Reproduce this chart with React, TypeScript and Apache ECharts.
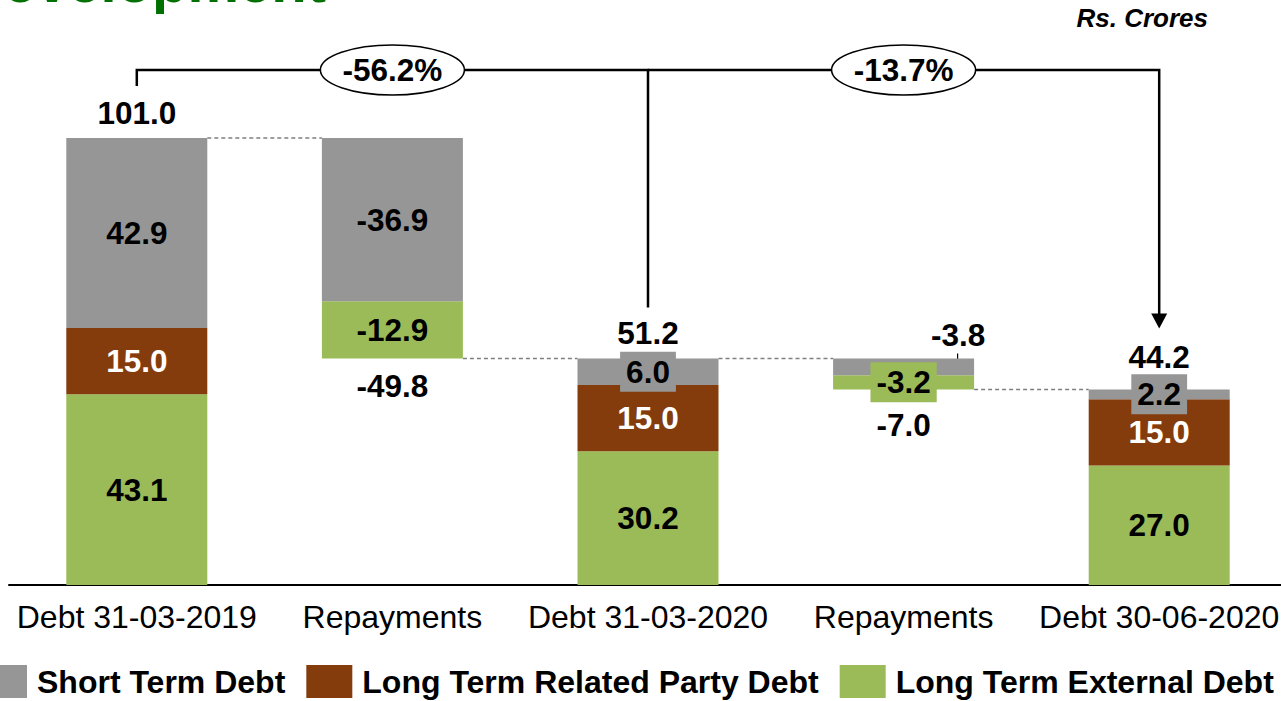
import { useEffect, useRef } from 'react';
import * as echarts from 'echarts';

// Debt positions and the repayments between them (Rs. Crores)
const categories = ['Debt 31-03-2019', 'Repayments', 'Debt 31-03-2020', 'Repayments', 'Debt 30-06-2020'];
const shortTermDebt = [42.9, -36.9, 6.0, -3.8, 2.2];
const relatedPartyDebt = [15.0, 0, 15.0, 0, 15.0];
const externalDebt = [43.1, -12.9, 30.2, -3.2, 27.0];
const totals = [101.0, -49.8, 51.2, -7.0, 44.2];
const periodChanges = ['-56.2%', '-13.7%'];
const seriesNames = ['Short Term Debt', 'Long Term Related Party Debt', 'Long Term External Debt'];

const GRAY = '#969696';
const BROWN = '#843C0C';
const GREEN = '#9BBB59';
const FONT = 'Arial, "Liberation Sans", sans-serif';
const FS = 31.5;
const FS_TEXT = 32;
const BAR_W = 141;
const BRACKET_Y = 70;
const VIEW_W = 1281;
const VIEW_H = 701;
const CHART_W = 1300; // plot runs slightly past the right edge of the view

const isChange = (i: number) => totals[i] < 0;
// floating base of each change column = level after the change
const baseOf = categories.map((_, i) => (i > 0 && isChange(i) ? +(totals[i - 1] + totals[i]).toFixed(1) : 0));
const levelAfter = (i: number) => (isChange(i) ? baseOf[i] : totals[i]);

const valueLabel = {
  show: true,
  position: 'inside',
  fontSize: FS,
  fontWeight: 'bold',
  fontFamily: FONT,
  color: '#000',
};

export default function App() {
  const ref = useRef<HTMLDivElement>(null);

  useEffect(() => {
    document.body.style.margin = '0';
    const chart = echarts.init(ref.current!, undefined, { renderer: 'svg' });

    const fmt = (arr: number[]) => (p: any) => (arr[p.dataIndex] === 0 ? '' : arr[p.dataIndex].toFixed(1));

    const externalData = externalDebt.map((v, i) => {
      const item: any = { value: Math.abs(v) };
      if (i === 3) item.label = { backgroundColor: GREEN, padding: [4, 6, 4, 6] };
      return item;
    });
    const shortData = shortTermDebt.map((v, i) => {
      const item: any = { value: Math.abs(v) };
      if (i === 2 || i === 4) item.label = { backgroundColor: GRAY, padding: [4, 6, 4, 6] };
      if (i === 3) item.label = { position: [125, -23], align: 'center', verticalAlign: 'middle' };
      return item;
    });
    const totalGap = [8.5, 11.5, 8.5, 19.5, 15.5];
    const totalData = totals.map((_, i) => ({
      value: [i, levelAfter(i)],
      label: { position: isChange(i) ? 'bottom' : 'top', distance: totalGap[i] },
    }));

    chart.setOption({
      animation: false,
      grid: { left: 9, right: CHART_W - 9 - 1278, top: 54, bottom: 116 },
      xAxis: {
        type: 'category',
        data: categories,
        axisTick: { show: false },
        axisLine: { lineStyle: { color: '#000', width: 2 } },
        axisLabel: { interval: 0, fontSize: FS_TEXT, color: '#000', fontFamily: FONT, margin: 16 },
      },
      yAxis: { type: 'value', min: 0, max: 120, show: false, splitLine: { show: false } },
      legend: {
        data: seriesNames,
        left: -24,
        top: 660,
        width: 1400,
        itemWidth: 46,
        itemHeight: 33,
        itemGap: 21,
        icon: 'rect',
        selectedMode: false,
        textStyle: { fontSize: FS_TEXT, fontWeight: 'bold', color: '#000', fontFamily: FONT, padding: [0, 0, 0, 5] },
      },
      series: [
        {
          name: 'base',
          type: 'bar',
          stack: 'debt',
          barWidth: BAR_W,
          silent: true,
          itemStyle: { color: 'transparent' },
          data: baseOf,
        },
        {
          name: seriesNames[2],
          type: 'bar',
          stack: 'debt',
          barWidth: BAR_W,
          itemStyle: { color: GREEN },
          label: { ...valueLabel, formatter: fmt(externalDebt) },
          data: externalData,
        },
        {
          name: seriesNames[1],
          type: 'bar',
          stack: 'debt',
          barWidth: BAR_W,
          itemStyle: { color: BROWN },
          label: { ...valueLabel, color: '#fff', formatter: fmt(relatedPartyDebt) },
          data: relatedPartyDebt,
        },
        {
          name: seriesNames[0],
          type: 'bar',
          stack: 'debt',
          barWidth: BAR_W,
          itemStyle: { color: GRAY },
          label: { ...valueLabel, formatter: fmt(shortTermDebt) },
          data: shortData,
        },
        {
          name: 'totals',
          type: 'scatter',
          symbolSize: 1,
          itemStyle: { color: 'transparent', opacity: 1 },
          silent: true,
          label: {
            show: true,
            fontSize: FS,
            fontWeight: 'bold',
            fontFamily: FONT,
            color: '#000',
            opacity: 1,
            formatter: (p: any) => totals[p.dataIndex].toFixed(1),
          },
          data: totalData,
        },
      ],
    });

    const px = (i: number, v: number) => chart.convertToPixel({ gridIndex: 0 }, [i, v]) as number[];
    const hw = BAR_W / 2;
    const graphics: any[] = [];

    // page heading and unit note
    graphics.push({
      type: 'text',
      x: 326,
      y: -19,
      style: { text: 'Development', fill: '#007000', fontSize: 58, fontWeight: 'bold', fontFamily: FONT, align: 'right', verticalAlign: 'middle' },
    });
    graphics.push({
      type: 'text',
      x: 1208,
      y: 18,
      style: { text: 'Rs. Crores', fill: '#000', fontSize: 26, fontWeight: 'bold', fontStyle: 'italic', fontFamily: FONT, align: 'right', verticalAlign: 'middle' },
    });

    // dashed step connectors between columns
    for (let i = 0; i < categories.length - 1; i++) {
      const a = px(i, levelAfter(i));
      const b = px(i + 1, levelAfter(i));
      graphics.push({
        type: 'line',
        shape: { x1: a[0] + hw, y1: a[1], x2: b[0] - hw, y2: b[1] },
        style: { stroke: '#7f7f7f', lineWidth: 1.5, lineDash: [4, 3] },
      });
    }

    // change brackets across periods
    const p0 = px(0, totals[0]);
    const p2 = px(2, totals[2]);
    const p4 = px(4, totals[4]);
    const tipY = p4[1] - 61;
    const lineStyle = { stroke: '#000', lineWidth: 2.5, fill: null };
    graphics.push({
      type: 'polyline',
      shape: { points: [[p0[0], p0[1] - 52], [p0[0], BRACKET_Y], [p2[0], BRACKET_Y], [p2[0], p2[1] - 51]] },
      style: lineStyle,
    });
    graphics.push({
      type: 'polyline',
      shape: { points: [[p2[0], BRACKET_Y], [p4[0], BRACKET_Y], [p4[0], tipY - 12]] },
      style: lineStyle,
    });
    graphics.push({
      type: 'polygon',
      shape: { points: [[p4[0] - 8, tipY - 15], [p4[0] + 8, tipY - 15], [p4[0], tipY]] },
      style: { fill: '#000' },
    });
    const ellipseCenters = [(p0[0] + p2[0]) / 2, (p2[0] + p4[0]) / 2];
    ellipseCenters.forEach((cx, k) => {
      graphics.push({
        type: 'ellipse',
        shape: { cx, cy: BRACKET_Y, rx: 72, ry: 25 },
        style: { fill: '#fff', stroke: '#000', lineWidth: 1.5 },
      });
      graphics.push({
        type: 'text',
        x: cx,
        y: BRACKET_Y,
        style: { text: periodChanges[k], fill: '#000', fontSize: FS, fontWeight: 'bold', fontFamily: FONT, align: 'center', verticalAlign: 'middle' },
      });
    });

    // leader tick for the small short-term repayment label
    const p3 = px(3, totals[2]);
    graphics.push({
      type: 'line',
      shape: { x1: p3[0] + 54, y1: p3[1] - 5, x2: p3[0] + 54, y2: p3[1] + 9 },
      style: { stroke: '#000', lineWidth: 1.2 },
    });

    chart.setOption({ graphic: graphics });

    return () => chart.dispose();
  }, []);

  return (
    <div style={{ width: VIEW_W, height: VIEW_H, overflow: 'hidden' }}>
      <div ref={ref} style={{ width: CHART_W, height: VIEW_H }} />
    </div>
  );
}
